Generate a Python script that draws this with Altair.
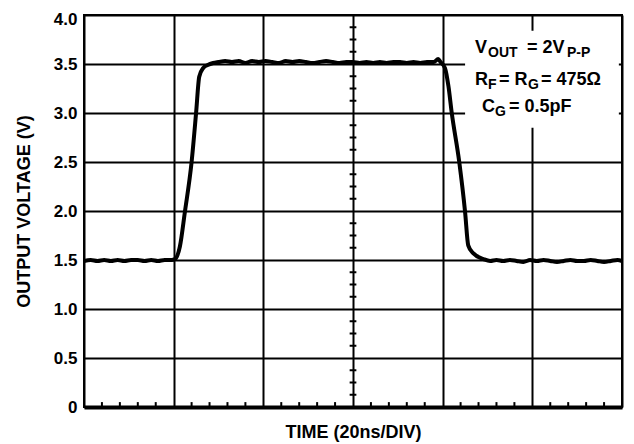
import altair as alt
import pandas as pd

# ---- signal (time in ns, output voltage in V) ----
time_ns = [0, 1.5, 3, 4.5, 6, 7.5, 9, 10.5, 12, 13.5, 15, 16.5, 18, 19.5, 20.3,
           21.4, 22.5, 24.0, 25.0, 25.7, 26.6, 27.6, 28.8, 30.0,
           31.5, 33, 34.5, 36, 37.5, 39, 40.5, 42, 43.5, 45, 46.5, 48, 49.5, 51,
           52.5, 54, 55.5, 57, 58.5, 60, 61.5, 63, 64.5, 66, 67.5, 69, 70.5, 72,
           73.5, 75, 76.5, 78, 79.0, 79.5,
           80.5, 81.3, 82.0, 83.7, 85.0, 85.7, 86.8, 89.1, 90.6,
           92, 93.5, 95, 96.5, 98, 99.5, 101, 102.5, 104, 105.5, 107, 108.5, 110,
           111.5, 113, 114.5, 116, 117.5, 119, 120]
volts = [1.49, 1.50, 1.49, 1.50, 1.49, 1.50, 1.49, 1.50, 1.50, 1.49, 1.50, 1.49, 1.50, 1.50, 1.51,
         1.64, 1.99, 2.50, 3.00, 3.37, 3.46, 3.49, 3.51, 3.52,
         3.53, 3.52, 3.53, 3.51, 3.53, 3.52, 3.53, 3.52, 3.51, 3.53, 3.52, 3.53, 3.52, 3.51,
         3.52, 3.53, 3.52, 3.51, 3.52, 3.52, 3.51, 3.52, 3.51, 3.52, 3.51, 3.52, 3.52, 3.51,
         3.52, 3.51, 3.52, 3.52, 3.55, 3.52,
         3.46, 3.27, 3.01, 2.50, 1.99, 1.65, 1.57, 1.51, 1.49,
         1.50, 1.49, 1.50, 1.49, 1.48, 1.50, 1.49, 1.50, 1.49, 1.48, 1.49, 1.50, 1.49,
         1.49, 1.50, 1.49, 1.48, 1.49, 1.50, 1.49]

# axis definitions
x_grid = [0, 20, 40, 60, 80, 100, 120]
y_ticks = [0, 0.5, 1.0, 1.5, 2.0, 2.5, 3.0, 3.5, 4.0]
bottom_minor = [t for t in range(4, 120, 4) if t % 20 != 0]
center_minor = [i * 0.125 for i in range(1, 32) if i % 4 != 0]

# annotation pieces: text, time position, voltage position, font size
note_text = ["V", "OUT", "= 2V", "P-P",
             "R", "F", "= R", "G", "= 475Ω",
             "C", "G", "= 0.5pF"]
note_t = [87.21, 90.11, 98.81, 107.73,
          87.21, 90.11, 92.57, 99.03, 101.93,
          88.78, 91.67, 94.80]
note_v = [3.612, 3.571, 3.612, 3.571,
          3.286, 3.245, 3.286, 3.245, 3.286,
          3.010, 2.969, 3.010]
note_size = [18, 14, 18, 14,
             18, 14, 18, 14, 18,
             18, 14, 18]

FONT = "Liberation Sans"

sig = pd.DataFrame({"t": time_ns, "v": volts})
notes = pd.DataFrame({"label": note_text, "t": note_t, "v": note_v, "size": note_size})
bm = pd.DataFrame({"t": bottom_minor, "y0": 0.0, "y1": 0.05})
cm = pd.DataFrame({"v": center_minor, "x0": 59.25, "x1": 60.75})
box = pd.DataFrame({"t0": [85.0], "t1": [119.3], "v0": [2.85], "v1": [3.84]})

xscale = alt.Scale(domain=[0, 120], nice=False, zero=False)
yscale = alt.Scale(domain=[0, 4], nice=False, zero=True)

xaxis = alt.Axis(values=x_grid, labels=False, ticks=False, domain=True,
                 domainColor="black", domainWidth=4,
                 grid=True, gridColor="black", gridWidth=2, gridOpacity=1,
                 title="TIME (20ns/DIV)", titleFont=FONT, titleFontSize=18,
                 titleFontWeight="bold", titleColor="black",
                 titleY=30, titleBaseline="alphabetic")
yaxis = alt.Axis(values=y_ticks,
                 labelExpr="datum.value == 0 ? '0' : format(datum.value, '.1f')",
                 labelFont=FONT, labelFontSize=17, labelFontWeight="bold",
                 labelColor="black", labelPadding=7,
                 labelOffset={"condition": {"test": "datum.value == 4", "value": 4}, "value": 0},
                 ticks=False, domain=False,
                 grid=True, gridColor="black", gridWidth=2, gridOpacity=1,
                 title="OUTPUT VOLTAGE (V)", titleFont=FONT, titleFontSize=18,
                 titleFontWeight="bold", titleColor="black",
                 titleX=-60, titleY=196, titleAngle=-90,
                 titleAlign="center", titleBaseline="middle")

base_line = alt.Chart(sig).mark_line(color="black", strokeWidth=4,
                                     interpolate="monotone").encode(
    x=alt.X("t:Q", scale=xscale, axis=xaxis),
    y=alt.Y("v:Q", scale=yscale, axis=yaxis),
)

box_layer = alt.Chart(box).mark_rect(fill="white").encode(
    x=alt.X("t0:Q", scale=xscale), x2="t1:Q",
    y=alt.Y("v0:Q", scale=yscale), y2="v1:Q",
)

bottom_ticks = alt.Chart(bm).mark_rule(color="black", strokeWidth=2).encode(
    x=alt.X("t:Q", scale=xscale),
    y=alt.Y("y0:Q", scale=yscale), y2="y1:Q",
)

center_ticks = alt.Chart(cm).mark_rule(color="black", strokeWidth=2).encode(
    x=alt.X("x0:Q", scale=xscale), x2="x1:Q",
    y=alt.Y("v:Q", scale=yscale),
)

text_layer = alt.Chart(notes).mark_text(font=FONT, fontWeight="bold", color="black",
                                        align="left", baseline="alphabetic").encode(
    x=alt.X("t:Q", scale=xscale),
    y=alt.Y("v:Q", scale=yscale),
    text="label:N",
    size=alt.Size("size:Q", scale=None, legend=None),
)

chart = alt.layer(base_line, box_layer, bottom_ticks, center_ticks, text_layer).properties(
    width=538, height=392,
    padding={"left": 84, "top": 15, "right": 12, "bottom": 37},
    autosize=alt.AutoSizeParams(type="none"),
    background="white",
).configure_view(stroke="black", strokeWidth=2)

chart.save("out.html", embed_options={"renderer": "svg", "actions": False})
